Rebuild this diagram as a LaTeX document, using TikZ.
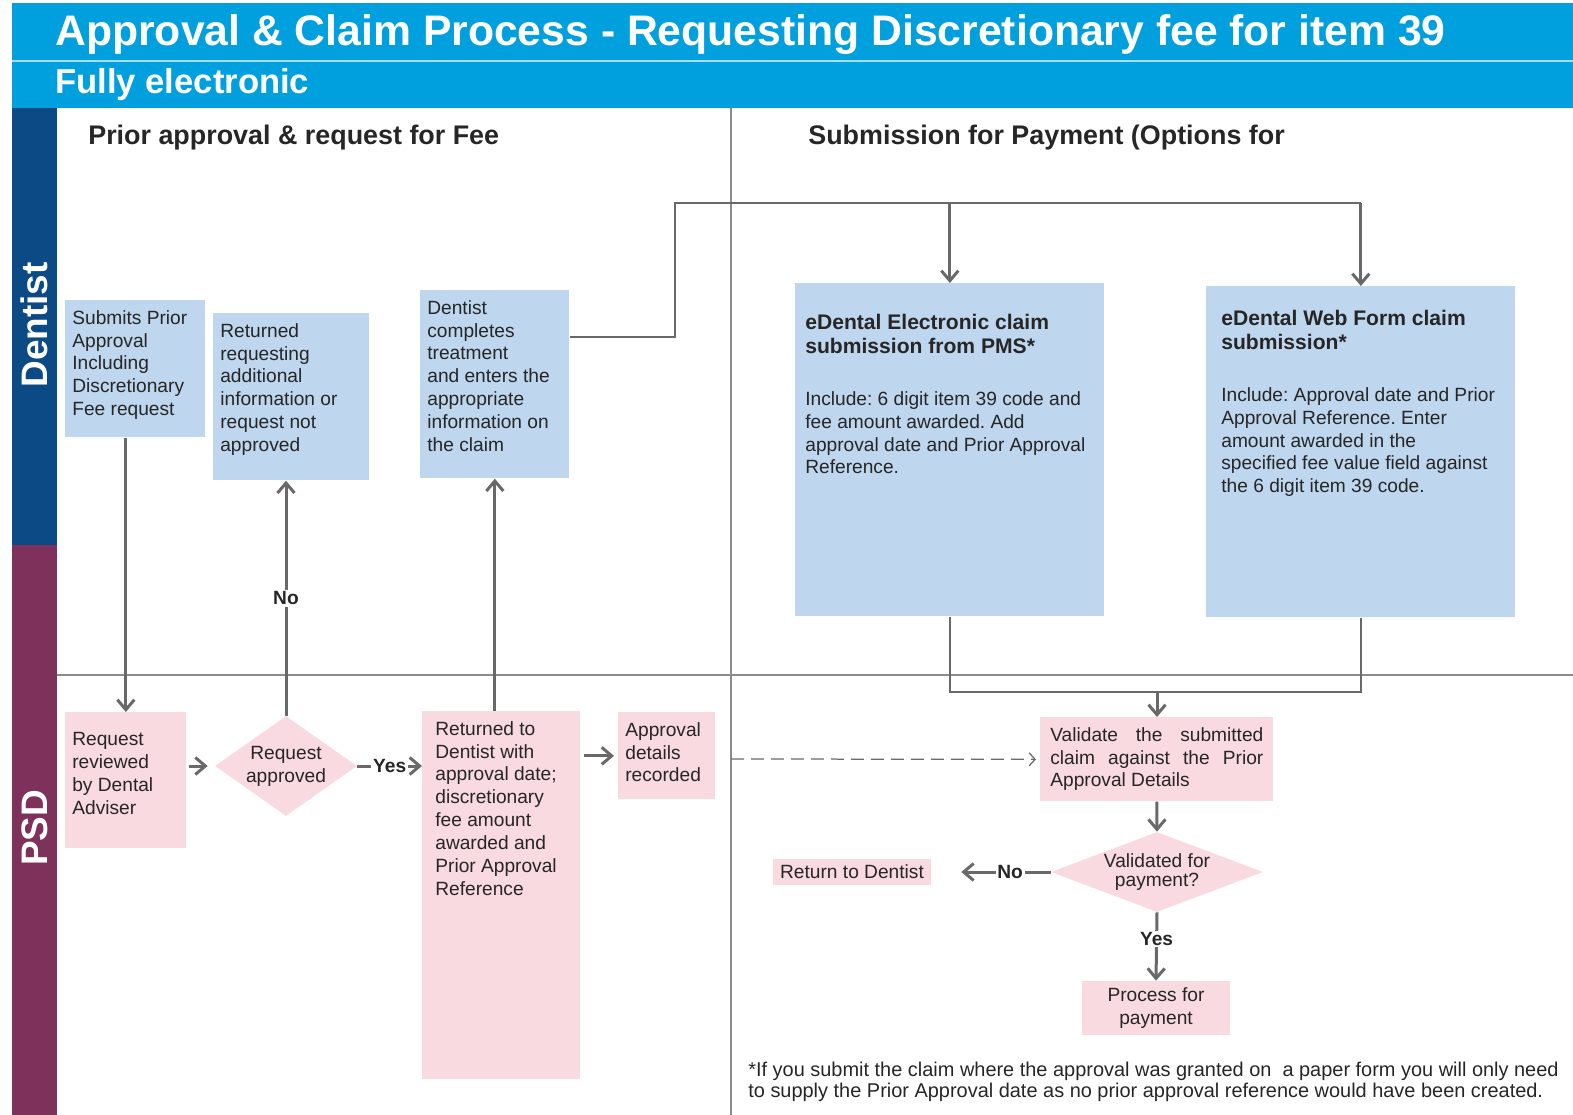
\documentclass[tikz,border=0pt]{standalone}
\usepackage{fontspec}
\setmainfont{Liberation Sans}
\usetikzlibrary{arrows.meta,shapes.geometric,calc}
\definecolor{hdrblue}{RGB}{0,160,223}
\definecolor{lanedent}{RGB}{12,74,134}
\definecolor{lanepsd}{RGB}{125,49,91}
\definecolor{boxblue}{RGB}{190,214,238}
\definecolor{boxpink}{RGB}{249,218,224}
\definecolor{arrgray}{RGB}{105,105,105}
\definecolor{rulegray}{RGB}{140,140,140}
\definecolor{txt}{RGB}{38,38,38}
\newdimen\pxu \pxu=0.02cm
\newcommand{\cell}[3]{\parbox[t][#2\pxu][t]{#1\pxu}{\raggedright #3}}
\frenchspacing

\begin{document}
\begin{tikzpicture}[x=0.02cm, y=-0.02cm,
  every node/.style={text=txt, font=\fontsize{10.9}{13}\selectfont},
  dentbox/.style={fill=boxblue, anchor=north west, inner xsep=0.14cm, inner ysep=0.2cm},
  psdbox/.style={fill=boxpink, anchor=north west, inner xsep=0.14cm, inner ysep=0.2cm},
  decide/.style={diamond, fill=boxpink, inner sep=0pt},
  arr/.style={draw=arrgray, line width=0.06cm, -{Straight Barb[length=0.2cm,width=0.34cm]}},
  link/.style={draw=arrgray, line width=0.04cm},
  tag/.style={fill=white, inner sep=1pt, font=\fontsize{10.9}{13}\selectfont\bfseries}]
\useasboundingbox (0,0) rectangle (1573,1115);
\fill[hdrblue] (12,3) rectangle (1573,108);
\draw[white!65!hdrblue, line width=0.04cm] (12,61) -- (1573,61);
\fill[lanedent] (12,108) rectangle (57,545);
\fill[lanepsd] (12,545) rectangle (57,1115);
\draw[rulegray, line width=0.03cm] (731,108) -- (731,1115);
\draw[rulegray, line width=0.03cm] (57,675) -- (1573,675);

\node[anchor=base west, inner sep=0, text=white, font=\fontsize{24.3}{28}\selectfont\bfseries] (title) at (55,46) {Approval \& Claim Process - Requesting Discretionary fee for item 39};
\node[anchor=base west, inner sep=0, text=white, font=\fontsize{19.7}{23}\selectfont\bfseries] (subtitle) at (55,94) {Fully electronic};
\node[anchor=base west, inner sep=0, font=\fontsize{15.3}{18}\selectfont\bfseries] (left) at (88,145) {Prior approval \& request for Fee};
\node[anchor=base west, inner sep=0, font=\fontsize{15.3}{18}\selectfont\bfseries] (right) at (808,145) {Submission for Payment (Options for};
\node[rotate=90, text=white, font=\fontsize{21}{24}\selectfont\bfseries] (dlane) at (34,325) {Dentist};
\node[rotate=90, text=white, font=\fontsize{21}{24}\selectfont\bfseries] (plane) at (35,828) {PSD};

\node[dentbox] (sub) at (65,300) {\cell{126}{117}{Submits Prior\\Approval\\Including\\Discretionary\\Fee request}};
\node[dentbox] (ret) at (213,313) {\cell{142}{147}{Returned\\requesting\\additional\\information or\\request not\\approved}};
\node[dentbox] (treat) at (420,290) {\cell{135}{168}{Dentist\\completes\\treatment\\and enters the\\appropriate\\information on\\the claim}};
\node[dentbox, inner xsep=0.2cm] (pms) at (795,283) {\cell{289}{313}{\vspace*{21\pxu}{\fontsize{12}{13.6}\selectfont\bfseries eDental Electronic claim\\submission from PMS*\par}\vspace{29\pxu}Include: 6 digit item 39 code and\\fee amount awarded. Add\\approval date and Prior Approval\\Reference.}};
\node[dentbox, inner xsep=0.3cm] (web) at (1206,286) {\cell{279}{311}{\vspace*{14\pxu}{\fontsize{12}{13.6}\selectfont\bfseries eDental Web Form claim\\submission*\par}\vspace{29\pxu}Include: Approval date and Prior\\Approval Reference. Enter\\amount awarded in the\\specified fee value field against\\the 6 digit item 39 code.}};

\node[psdbox] (review) at (65,712) {\cell{107}{116}{\vspace*{10\pxu}Request\\reviewed\\by Dental\\Adviser}};
\node[decide, minimum width=2.84cm, minimum height=2cm, label={[align=center]center:Request\\approved}] (appr) at (286,766) {};
\node[psdbox, inner xsep=0.26cm] (back) at (422,711) {\cell{132}{348}{Returned to\\Dentist with\\approval date;\\discretionary\\fee amount\\awarded and\\Prior Approval\\Reference}};
\node[psdbox] (rec) at (618,712) {\cell{83}{67}{Approval\\details\\recorded}};
\node[psdbox, inner xsep=0.2cm] (valid) at (1040,717) {\parbox[t][64\pxu][t]{213\pxu}{Validate the submitted\linebreak claim against the Prior\linebreak Approval Details}};
\node[decide, minimum width=4.24cm, minimum height=1.6cm, label={[align=center, font=\fontsize{10.9}{11}\selectfont]center:Validated for\\payment?}] (chk) at (1157,872) {};
\node[fill=boxpink, minimum width=3.16cm, minimum height=0.52cm, inner sep=0] (retd) at (852,872) {Return to Dentist};
\node[fill=boxpink, minimum width=2.96cm, minimum height=1.08cm, inner sep=0, align=center] (proc) at (1156,1008) {Process for\\payment};

\node[anchor=north west, inner sep=0, align=left, font=\fontsize{11.35}{11.9}\selectfont] (note) at (748,1062) {*If you submit the claim where the approval was granted on\ \ a paper form you will only need\\to supply the Prior Approval date as no prior approval reference would have been created.};

\draw[arr] (review.north |- sub.south) -- (review.north);
\draw[arr] (appr.north) -- (appr.north |- ret.south) node[tag, midway] {No};
\draw[arr, shorten <=0.04cm, shorten >=0.14cm] (review.east |- appr.west) -- (appr.west);
\draw[arr] (appr.east) -- (back.west |- appr.east) node[tag, midway] {Yes};
\draw[arr] (treat.south |- back.north) -- (treat.south);
\draw[arr, shorten <=0.06cm, shorten >=0.08cm] (back.east |- rec.west) -- (rec.west);

\coordinate (bus) at (675,203);
\draw[link] ($(treat.north east)!0.25!(treat.south east)$) -| (bus) -- (bus -| web.north);
\draw[arr] (bus -| pms.north) -- (pms.north);
\draw[arr] (bus -| web.north) -- (web.north);

\coordinate (merge) at (1157,692);
\draw[link] (pms.south) |- (merge) -| (web.south);
\draw[arr] (merge) -- (merge |- valid.north);

\coordinate (dash0) at (731,759);
\draw[arrgray, line width=0.025cm, dash pattern=on 0.26cm off 0.14cm, -{Straight Barb[length=0.12cm,width=0.26cm]}, shorten >=0.08cm] (dash0) -- (valid.west);

\draw[arr] (valid.south) -- (chk.north);
\draw[arr, shorten >=0.6cm] (chk.west) -- (retd.east |- chk.west) node[tag, pos=0.34] {No};
\draw[arr] (chk.south) -- (proc.north) node[tag, pos=0.39] {Yes};
\end{tikzpicture}
\end{document}
